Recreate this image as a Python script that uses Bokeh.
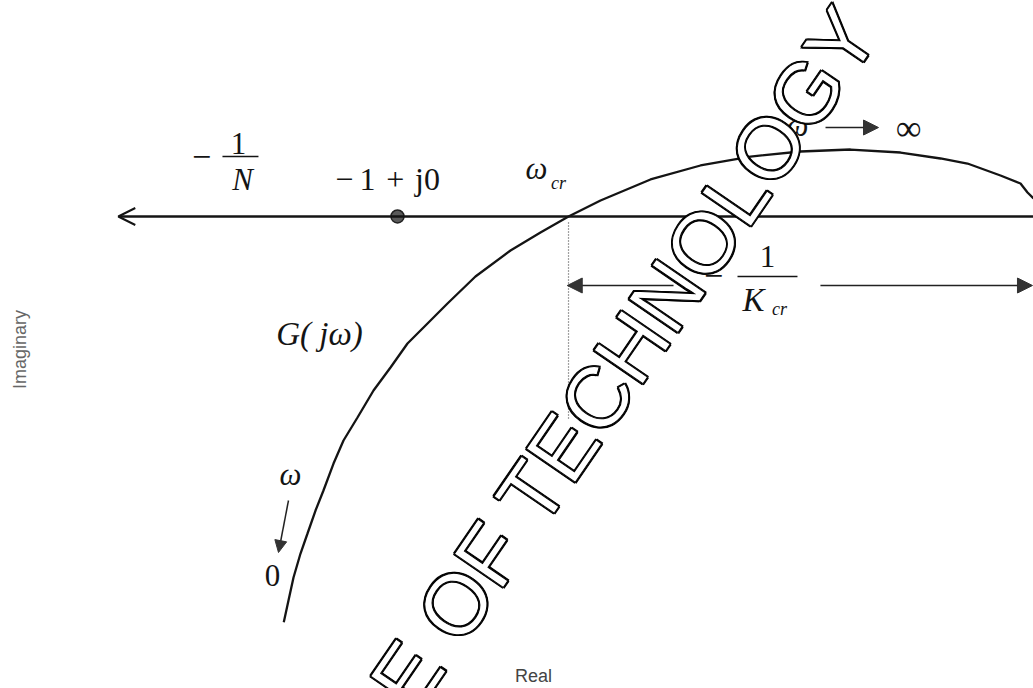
import math

from bokeh.embed import file_html
from bokeh.models import Arrow, Label, NormalHead, OpenHead, Range1d
from bokeh.plotting import figure
from bokeh.resources import INLINE

# Nyquist locus G(jw) in the complex plane (real, imaginary parts)
g_real = [-1.1788, -1.1714, -1.1635, -1.1525, -1.1415, -1.1289, -1.1164, -1.1006,
          -1.0849, -1.0629, -1.0377, -1.0110, -0.9843, -0.9528, -0.9214, -0.8774,
          -0.8223, -0.7752, -0.7311, -0.6808, -0.6022, -0.5236, -0.4450, -0.3664,
          -0.2877, -0.2091, -0.1462, -0.1038, -0.0519, -0.0204, -0.0094, 0.0000]
g_imag = [-0.6379, -0.6038, -0.5676, -0.5299, -0.4984, -0.4623, -0.4308, -0.3884,
          -0.3522, -0.3160, -0.2736, -0.2374, -0.1997, -0.1682, -0.1368, -0.0943,
          -0.0535, -0.0252, 0.0000, 0.0252, 0.0582, 0.0802, 0.0943, 0.1022,
          0.1053, 0.1006, 0.0912, 0.0833, 0.0645, 0.0519, 0.0377, 0.0283]

critical_point = (-1.0, 0.0)      # -1 + j0
crossing_real = -0.7311           # -1/K_cr, where the locus meets the real axis
axis_left_end = -1.439            # -1/N direction of the real axis arrow

INK = "#141414"
SERIF = "Liberation Serif"

p = figure(width=1033, height=688,
           x_range=Range1d(-1.6242, 0.0), y_range=Range1d(-0.7421, 0.3396),
           x_axis_type=None, y_axis_type=None,
           output_backend="svg", toolbar_location=None,
           min_border=0, outline_line_color=None,
           background_fill_color="white", border_fill_color="white")

# real axis, pointing towards -1/N
p.add_layout(Arrow(end=OpenHead(size=17, line_width=2, line_color=INK),
                   x_start=0.0, y_start=0.0, x_end=axis_left_end, y_end=0.0,
                   line_width=2.5, line_color=INK))

# the frequency locus
p.line(g_real, g_imag, line_width=2.3, line_color=INK)

# critical point
p.scatter([critical_point[0]], [critical_point[1]], size=13,
          fill_color="#5a5a5a", line_color="#222222", line_width=1.5)

# dotted drop from the crossing frequency
p.line([crossing_real, crossing_real], [-0.0094, -0.3208],
       line_dash="1 2", line_color="#444444", line_width=1.2)

# span of -1/K_cr
kcr_y = -0.1085
head = dict(fill_color="#333333", line_color="#333333")
p.add_layout(Arrow(end=NormalHead(size=15, **head),
                   x_start=-0.566, y_start=kcr_y, x_end=crossing_real - 0.002, y_end=kcr_y,
                   line_width=1.5, line_color="#222222"))
p.add_layout(Arrow(end=NormalHead(size=15, **head),
                   x_start=-0.335, y_start=kcr_y, x_end=-0.0016, y_end=kcr_y,
                   line_width=1.5, line_color="#222222"))

# w -> infinity arrow
p.add_layout(Arrow(end=NormalHead(size=15, **head),
                   x_start=-0.327, y_start=0.1399, x_end=-0.2437, y_end=0.1399,
                   line_width=1.5, line_color="#222222"))

# w -> 0 arrow
p.add_layout(Arrow(end=NormalHead(size=12, **head),
                   x_start=-1.1714, y_start=-0.4465, x_end=-1.1871, y_end=-0.5283,
                   line_width=1.5, line_color="#222222"))

# fraction bars
p.line([-1.2752, -1.2186], [0.0943, 0.0943], line_width=1.5, line_color=INK)
p.line([-0.4654, -0.3711], [-0.0943, -0.0943], line_width=1.5, line_color=INK)


def math_label(text, x, y, size=31, style="normal"):
    p.add_layout(Label(x=x, y=y, text=text, text_font=SERIF,
                       text_font_size=f"{size}px", text_font_style=style,
                       text_color=INK, text_align="center", text_baseline="middle"))


math_label("\u2212", -1.3082, 0.0943, size=34)
math_label("1", -1.2500, 0.1148)
math_label("N", -1.2437, 0.0582, style="italic")
math_label("\u2212\u20091\u2004+\u2004j0", -1.0157, 0.0597, size=32)
math_label("\u03c9", -0.7814, 0.0755, style="italic")
math_label("cr", -0.7470, 0.0530, size=18, style="italic")
math_label("\u03c9", -0.3711, 0.1431, style="italic")
math_label("\u221e", -0.1965, 0.1399, size=36)
math_label("\u2212", -0.5031, -0.0943, size=34)
math_label("1", -0.4182, -0.0629)
math_label("K", -0.4403, -0.1305, style="italic", size=33)
math_label("cr", -0.3994, -0.1451, size=18, style="italic")
math_label("G( j\u03c9)", -1.1226, -0.1855, style="italic", size=33)
math_label("\u03c9", -1.1682, -0.4057, style="italic")
math_label("0", -1.1965, -0.5645)

# axis titles
p.add_layout(Label(x=19, y=339, x_units="screen", y_units="screen",
                   text="Imaginary", angle=math.pi / 2,
                   text_font="Liberation Sans", text_font_size="18px",
                   text_color="#666666", text_align="center", text_baseline="middle"))
p.add_layout(Label(x=533, y=13, x_units="screen", y_units="screen",
                   text="Real", text_font="Liberation Sans", text_font_size="18px",
                   text_color="#444444", text_align="center", text_baseline="middle"))

# outlined diagonal stamp across the plot: a dark halo from a few shifted,
# outlined copies, then the white letter body with its own outline on top
stamp = dict(x=-0.6431, y=-0.2217, text="E OF TECHNOLOGY", angle=0.970,
             text_font="Liberation Sans", text_font_size="86px",
             text_align="center", text_baseline="middle",
             text_outline_color="black")
d = 0.9
for dx, dy in [(d, d), (-d, d), (d, -d), (-d, -d)]:
    p.add_layout(Label(x_offset=dx, y_offset=dy, text_color="black", **stamp))
p.add_layout(Label(text_color="white", **stamp))

open("out.html", "w").write(file_html(p, INLINE))
